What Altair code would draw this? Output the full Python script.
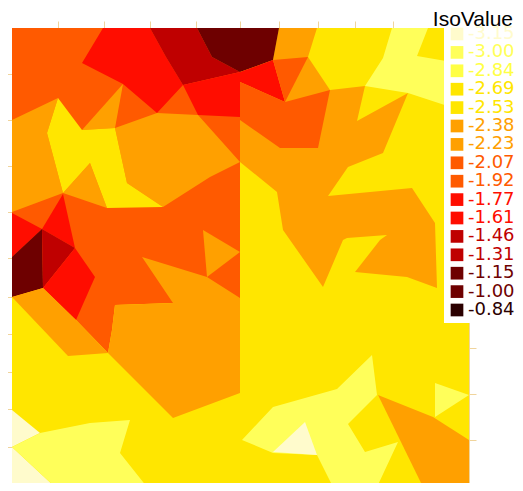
import altair as alt
import pandas as pd

# ---- legend levels and colours (hot colormap) ----
levels = ["-3.15", "-3.00", "-2.84", "-2.69", "-2.53", "-2.38", "-2.23", "-2.07",
          "-1.92", "-1.77", "-1.61", "-1.46", "-1.31", "-1.15", "-1.00", "-0.84"]
level_colors = ["#fffbcc", "#ffff5a", "#ffff44", "#ffe600", "#ffe600", "#ffa000",
                "#ffa000", "#ff5a00", "#ff5a00", "#ff0d00", "#ff0d00", "#bf0000",
                "#bf0000", "#6e0000", "#6e0000", "#2b0000"]

# ---- axis tick positions (mesh boundary nodes) ----
ticks_bottom = [56, 102, 148, 194, 240, 287, 332, 377, 423]
ticks_top = [58, 104, 150, 196, 240, 279, 318, 355, 393]
ticks_left = [74, 120, 166, 212, 258, 297, 334, 372, 409, 447]
ticks_right = [348, 394, 440]

x_domain = [12, 469]
y_domain = [28, 487]

# ---- iso-band polygons, in drawing order ----
poly_levels = [
    "-2.69", "-2.07", "-1.77", "-1.46", "-2.38", "-1.15", "-1.77", "-1.77",
    "-2.07", "-2.07", "-2.38", "-2.38", "-2.38", "-2.38", "-2.69", "-1.77",
    "-1.77", "-1.15", "-1.46", "-1.77", "-2.38", "-2.38", "-2.38", "-3.15",
    "-3.15", "-3.00", "-3.00", "-3.00", "-3.15", "-3.00", "-2.38",
]
poly_vertices = [
    [(12, 28), (469, 28), (469, 487), (12, 487)],
    [(12, 28), (240, 28), (240, 298), (173, 303), (115, 305), (112, 330), (108, 353),
     (76, 320), (43, 288), (12, 297)],
    [(103, 28), (150, 28), (166, 57), (183, 85), (157, 113), (123, 84), (82, 63)],
    [(150, 28), (197, 28), (212, 57), (240, 72), (183, 85), (166, 57)],
    [(279, 28), (317, 28), (308, 57), (330, 90), (365, 86), (357, 121), (408, 93),
     (383, 153), (348, 167), (328, 196), (412, 188), (435, 223), (437, 288),
     (407, 277), (355, 272), (380, 240), (387, 235), (347, 238), (343, 240),
     (323, 287), (283, 230), (277, 192), (240, 162), (240, 72), (273, 60)],
    [(197, 28), (279, 28), (273, 60), (240, 72), (212, 57)],
    [(183, 85), (240, 72), (240, 117), (198, 115)],
    [(240, 72), (273, 60), (285, 102), (240, 82)],
    [(273, 60), (308, 57), (285, 102)],
    [(240, 82), (285, 102), (330, 90), (318, 148), (280, 148), (240, 120)],
    [(82, 130), (123, 84), (115, 128)],
    [(115, 128), (157, 113), (198, 115), (240, 162), (210, 177), (163, 207), (127, 183)],
    [(12, 120), (58, 98), (47, 133), (63, 193), (12, 212)],
    [(63, 193), (90, 163), (107, 208)],
    [(58, 98), (82, 130), (115, 128), (127, 183), (163, 207), (107, 208), (90, 163),
     (63, 193), (47, 133)],
    [(12, 213), (42, 229), (12, 257)],
    [(63, 194), (75, 248), (42, 229)],
    [(12, 257), (42, 229), (43, 288), (12, 297)],
    [(42, 229), (75, 248), (43, 288)],
    [(75, 248), (95, 277), (76, 320), (43, 288)],
    [(12, 297), (43, 288), (76, 320), (108, 353), (68, 356)],
    [(142, 257), (207, 277), (240, 298), (240, 393), (173, 418), (108, 353), (112, 330),
     (115, 305), (173, 303)],
    [(203, 230), (240, 252), (207, 277)],
    [(12, 410), (40, 433), (12, 447)],
    [(12, 447), (55, 487), (12, 487)],
    [(12, 447), (40, 433), (90, 423), (130, 420), (120, 453), (147, 487), (55, 487)],
    [(392, 28), (428, 28), (417, 56), (469, 65), (469, 113), (408, 93), (365, 86), (383, 58)],
    [(242, 440), (273, 407), (337, 389), (372, 355), (377, 395), (348, 424), (365, 452),
     (398, 442), (377, 487), (333, 487), (317, 455), (273, 453)],
    [(305, 422), (273, 452), (317, 455)],
    [(435, 383), (469, 395), (435, 417)],
    [(378, 395), (433, 417), (469, 440), (469, 487), (423, 487)],
]

rows = []
for k, (lev, verts) in enumerate(zip(poly_levels, poly_vertices)):
    for i, (vx, vy) in enumerate(verts):
        rows.append({"pid": f"p{k:02d}", "level": lev, "i": i, "x": vx, "y": vy})
df = pd.DataFrame(rows)

axis_color = "#f0d49c"
xs = alt.Scale(domain=x_domain, nice=False, zero=False)
ys = alt.Scale(domain=y_domain, nice=False, zero=False, reverse=True)


def make_axis(orient, values):
    return alt.Axis(orient=orient, values=values, labels=False, title=None, grid=False,
                    ticks=True, tickSize=7, tickColor=axis_color, domainColor=axis_color,
                    tickWidth=1, domainWidth=1)


legend = alt.Legend(
    title=None, orient="none", legendX=432, legendY=-7, padding=4,
    fillColor="white", symbolType="square", symbolSize=161, symbolStrokeWidth=0,
    symbolOpacity=1, labelFont="DejaVu Sans", labelFontSize=18, labelOffset=2,
    rowPadding=0.4, labelColor=alt.ExprRef("scale('color', datum.value)"),
    values=levels,
)

polys = alt.Chart(df).mark_line(filled=True, strokeWidth=0.6).encode(
    x=alt.X("x:Q", scale=xs, axis=make_axis("bottom", ticks_bottom)),
    y=alt.Y("y:Q", scale=ys, axis=make_axis("left", ticks_left)),
    color=alt.Color("level:N", scale=alt.Scale(domain=levels, range=level_colors),
                    legend=legend),
    detail="pid:N",
    order="i:Q",
)

frame = alt.Chart(df).mark_point(opacity=0).encode(
    x=alt.X("x:Q", scale=xs, axis=make_axis("top", ticks_top)),
    y=alt.Y("y:Q", scale=ys, axis=make_axis("right", ticks_right)),
)

chart = alt.layer(polys, frame).resolve_axis(x="independent", y="independent").properties(
    width=457, height=459, autosize="none",
    padding={"left": 4, "top": 20, "right": 46, "bottom": -4},
    title=alt.TitleParams("IsoValue", anchor="end", frame="group", dx=44, dy=13,
                          fontSize=21, font="Liberation Sans", fontWeight="normal",
                          color="black"),
).configure_view(stroke=None)

chart.save("out.html", embed_options={"renderer": "svg", "actions": False})
